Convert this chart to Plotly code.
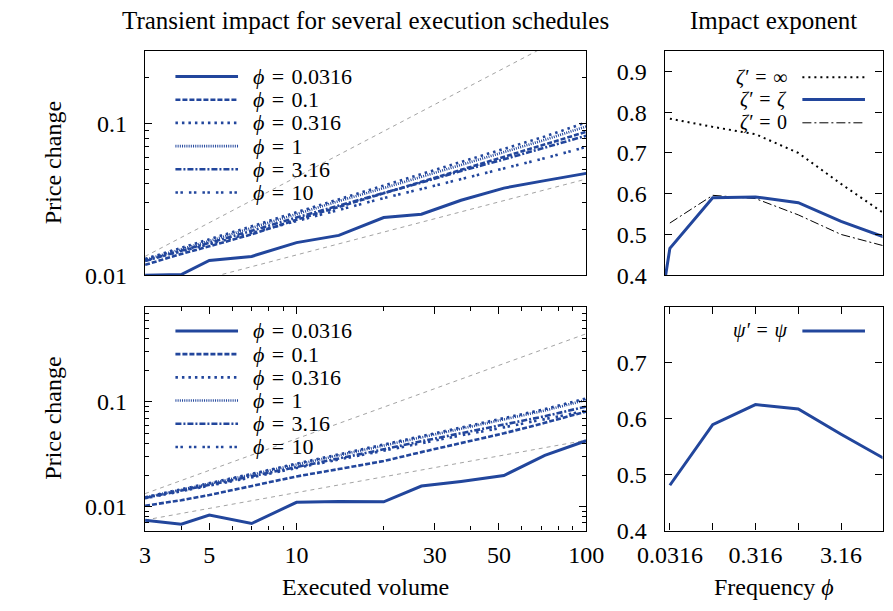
import numpy as np
import plotly.graph_objects as go

W, H = 893, 611
BLUE = '#22469c'
FONT = 'Liberation Serif'

# ---- data ----
volume = [3, 4, 5, 7, 10, 14, 20, 27, 37, 52, 72, 100]
phi_labels = ['0.0316', '0.1', '0.316', '1', '3.16', '10']

top_impact = {
    '0.0316': [0.0100, 0.0101, 0.0125, 0.0133, 0.0164, 0.0183, 0.0240, 0.0252, 0.0312, 0.0375, 0.0420, 0.0469],
    '0.1':    [0.0117, 0.0138, 0.0155, 0.0186, 0.0232, 0.0282, 0.0346, 0.0413, 0.0497, 0.0606, 0.0730, 0.0880],
    '0.316':  [0.0128, 0.0151, 0.0172, 0.0210, 0.0260, 0.0317, 0.0390, 0.0465, 0.0560, 0.0680, 0.0820, 0.1015],
    '1':      [0.0126, 0.0148, 0.0168, 0.0205, 0.0253, 0.0308, 0.0375, 0.0445, 0.0535, 0.0645, 0.0780, 0.0955],
    '3.16':   [0.0124, 0.0145, 0.0162, 0.0196, 0.0240, 0.0289, 0.0348, 0.0408, 0.0486, 0.0580, 0.0690, 0.0830],
    '10':     [0.0125, 0.0143, 0.0160, 0.0190, 0.0228, 0.0270, 0.0322, 0.0370, 0.0430, 0.0505, 0.0590, 0.0700],
}
bottom_impact = {
    '0.0316': [0.0074, 0.0068, 0.0083, 0.0069, 0.0110, 0.0112, 0.0111, 0.0157, 0.0174, 0.0198, 0.0308, 0.0425],
    '0.1':    [0.0102, 0.0115, 0.0129, 0.0158, 0.0194, 0.0228, 0.0272, 0.0331, 0.0405, 0.0500, 0.0630, 0.0807],
    '0.316':  [0.0123, 0.0146, 0.0167, 0.0205, 0.0257, 0.0315, 0.0388, 0.0470, 0.0565, 0.0690, 0.0850, 0.1076],
    '1':      [0.0122, 0.0144, 0.0165, 0.0202, 0.0252, 0.0308, 0.0380, 0.0460, 0.0550, 0.0672, 0.0825, 0.1040],
    '3.16':   [0.0121, 0.0142, 0.0161, 0.0194, 0.0240, 0.0290, 0.0352, 0.0420, 0.0500, 0.0600, 0.0728, 0.0900],
    '10':     [0.0120, 0.0140, 0.0158, 0.0190, 0.0234, 0.0282, 0.0340, 0.0402, 0.0478, 0.0570, 0.0685, 0.0820],
}
# grey guide lines (slope 1 and slope 1/2)
guide_x = [3, 100]
guide_linear = [0.0133, 0.445]
guide_sqrt = [0.00745, 0.0430]

freq = [0.01, 0.0316, 0.1, 0.316, 1, 3.16, 10]
zeta_inf = [None, 0.784, 0.764, 0.746, 0.700, 0.624, 0.552]
zeta_zeta = [-0.20, 0.466, 0.590, 0.592, 0.578, 0.532, 0.494]
zeta_zero = [None, 0.528, 0.596, 0.588, 0.548, 0.500, 0.472]
psi_psi = [None, 0.481, 0.589, 0.625, 0.617, 0.572, 0.529]

styles = {
    '0.0316': dict(dash='solid', width=3),
    '0.1':    dict(dash='5px,2px', width=2.6),
    '0.316':  dict(dash='2.5px,4px', width=2.6),
    '1':      dict(dash='1px,1.2px', width=2.6),
    '3.16':   dict(dash='6px,2px,2px,2px', width=2.6),
    '10':     dict(dash='2.5px,2.5px,2.5px,6px', width=2.6),
}


def px(x, y):
    return x / W, 1 - y / H


# panel boxes in pixels
LX0, LX1 = 115, 580
RX0, RX1 = 663, 892.5
TY0, TY1 = 44, 273
BY0, BY1 = 305, 534
FS = 24
EQ = '\u2004=\u2004'   # slightly wider spacing around "=", like TeX math

fig = go.Figure()

for data, ax in [(top_impact, ('x', 'y')), (bottom_impact, ('x3', 'y3'))]:
    for gy in (guide_linear, guide_sqrt):
        fig.add_trace(go.Scatter(x=guide_x, y=gy, mode='lines', xaxis=ax[0], yaxis=ax[1],
                                 line=dict(color='#8c8c8c', width=0.8, dash='4px,4px'), showlegend=False))
    for lab in phi_labels:
        fig.add_trace(go.Scatter(x=volume, y=data[lab], mode='lines', xaxis=ax[0], yaxis=ax[1],
                                 line=dict(color=BLUE, **styles[lab]), showlegend=False))

fig.add_trace(go.Scatter(x=freq, y=zeta_inf, mode='lines', xaxis='x2', yaxis='y2',
                         line=dict(color='black', width=2, dash='2px,4px'), showlegend=False))
fig.add_trace(go.Scatter(x=freq, y=zeta_zero, mode='lines', xaxis='x2', yaxis='y2',
                         line=dict(color='black', width=1, dash='9px,3px,2px,3px'), showlegend=False))
fig.add_trace(go.Scatter(x=freq, y=zeta_zeta, mode='lines', xaxis='x2', yaxis='y2',
                         line=dict(color=BLUE, width=3), showlegend=False))
fig.add_trace(go.Scatter(x=freq, y=psi_psi, mode='lines', xaxis='x4', yaxis='y4',
                         line=dict(color=BLUE, width=3), showlegend=False))

# ---- axes ----
base = dict(showline=True, linecolor='black', linewidth=1.4, mirror='ticks', showgrid=False,
            zeroline=False, ticks='inside', ticklen=7, tickcolor='black', tickwidth=1,
            tickfont=dict(family=FONT, size=FS, color='black'), ticklabelstandoff=12)
xbase = dict(base, ticklabelstandoff=2)
no_ticks = dict(base, ticks='', showticklabels=False)

def minor(vals):
    return dict(tickvals=vals, ticks='inside', ticklen=4, tickcolor='black', tickwidth=1)

vol_ticks = [3, 5, 10, 30, 50, 100]
vol_minor = [4, 6, 7, 8, 9, 20, 40, 60, 70, 80, 90]
freq_ticks = [0.0316, 0.1, 0.316, 1, 3.16, 10]
freq_text = ['0.0316', '', '0.316', '', '3.16', '']
top_minor = [0.02, 0.03, 0.04, 0.05, 0.06, 0.07, 0.08, 0.09, 0.2, 0.3]
bot_minor = [0.006, 0.007, 0.008, 0.009, 0.02, 0.03, 0.04, 0.05, 0.06, 0.07, 0.08, 0.09,
             0.2, 0.3, 0.4, 0.5, 0.6, 0.7, 0.8]

xl = [LX0 / W, LX1 / W]
xr = [RX0 / W, RX1 / W]
yt = [1 - TY1 / H, 1 - TY0 / H]
yb = [1 - BY1 / H, 1 - BY0 / H]
frange = [np.log10(0.0276), np.log10(9.64)]

fig.update_layout(
    width=W, height=H, margin=dict(l=0, r=0, t=0, b=0),
    paper_bgcolor='white', plot_bgcolor='white', showlegend=False,
    xaxis=dict(no_ticks, type='log', range=[np.log10(3), 2], domain=xl, anchor='y'),
    yaxis=dict(base, type='log', range=[-2, np.log10(0.3)], domain=yt, anchor='x',
               tickvals=[0.01, 0.1], ticktext=['0.01', '0.1'], minor=minor(top_minor)),
    xaxis2=dict(no_ticks, type='log', range=frange, domain=xr, anchor='y2'),
    yaxis2=dict(base, range=[0.4, 0.95], domain=yt, anchor='x2', tickvals=[0.4, 0.5, 0.6, 0.7, 0.8, 0.9],
                ticktext=['0.4', '0.5', '0.6', '0.7', '0.8', '0.9']),
    xaxis3=dict(xbase, type='log', range=[np.log10(3), 2], domain=xl, anchor='y3',
                tickvals=vol_ticks, ticktext=[str(v) for v in vol_ticks], minor=minor(vol_minor)),
    yaxis3=dict(base, type='log', range=[np.log10(0.0059), np.log10(0.81)], domain=yb, anchor='x3',
                tickvals=[0.01, 0.1], ticktext=['0.01', '0.1'], minor=minor(bot_minor)),
    xaxis4=dict(xbase, type='log', range=frange, domain=xr, anchor='y4',
                tickvals=freq_ticks, ticktext=freq_text),
    yaxis4=dict(base, range=[0.4, 0.8], domain=yb, anchor='x4', tickvals=[0.4, 0.5, 0.6, 0.7],
                ticktext=['0.4', '0.5', '0.6', '0.7']),
)

annotations = []
shapes = []

def text(x, y, s, size=FS, angle=0, xanchor='center'):
    ax_, ay_ = px(x, y)
    annotations.append(dict(x=ax_, y=ay_, xref='paper', yref='paper', text=s, showarrow=False,
                            textangle=angle, xanchor=xanchor, yanchor='middle',
                            font=dict(family=FONT, size=size, color='black')))

def sample(x0, x1, y, color, dash, width):
    a0, b0 = px(x0, y)
    a1, _ = px(x1, y)
    shapes.append(dict(type='line', xref='paper', yref='paper', x0=a0, x1=a1, y0=b0, y1=b0,
                       line=dict(color=color, dash=dash, width=width)))

text(347, 13, 'Transient impact for several execution schedules', size=25)
text(778, 13, 'Impact exponent', size=25)
text(18, (TY0 + TY1) / 2, 'Price change', angle=-90)
text(18, (BY0 + BY1) / 2, 'Price change', angle=-90)
text(347, 592, 'Executed volume')
text(778, 592, 'Frequency <i>ϕ</i>')

# legends of left panels
for row0 in (70, 330):
    for i, lab in enumerate(phi_labels):
        y = row0 + 23.7 * i
        sample(147, 213, y, BLUE, styles[lab]['dash'], styles[lab]['width'])
        text(227, y, '<i>ϕ</i>' + EQ + lab, size=22, xanchor='left')

# legends of right panels
right_entries = [
    (70.7, '<i>ζ′</i>' + EQ + '∞', 'black', '2px,4px', 2),
    (93.5, '<i>ζ′</i>' + EQ + '<i>ζ</i>', BLUE, 'solid', 3),
    (117.3, '<i>ζ′</i>' + EQ + '0', 'black', '9px,3px,2px,3px', 1),
    (330, '<i>ψ′</i>' + EQ + '<i>ψ</i>', BLUE, 'solid', 3),
]
for y, s, c, d, w in right_entries:
    text(794, y, s, size=20, xanchor='right')
    sample(808, 874, y, c, d, w)

fig.update_layout(annotations=annotations, shapes=shapes)
fig.write_html('out.html')
